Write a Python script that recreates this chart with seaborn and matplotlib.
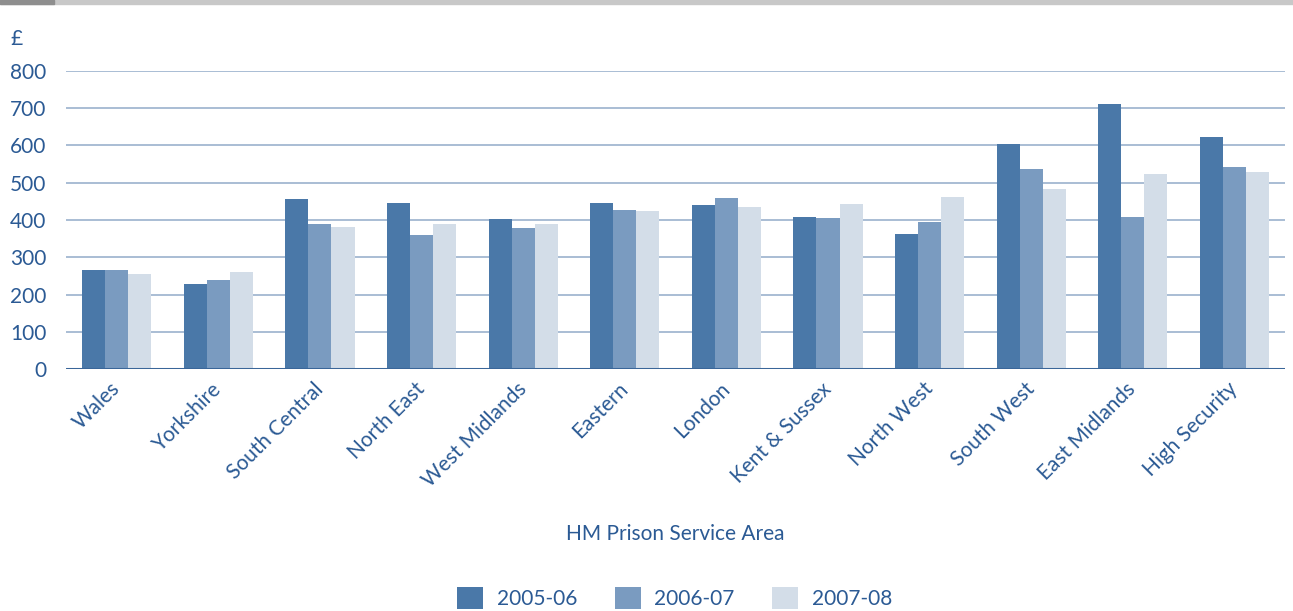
import matplotlib
matplotlib.use("Agg")
import matplotlib.pyplot as plt
import matplotlib.transforms as mtransforms
import seaborn as sns
import pandas as pd
from matplotlib.patches import Rectangle

categories = ["Wales", "Yorkshire", "South Central", "North East", "West Midlands",
              "Eastern", "London", "Kent & Sussex", "North West", "South West",
              "East Midlands", "High Security"]
series_names = ["2005-06", "2006-07", "2007-08"]
v_2005_06 = [266, 228, 456, 446, 403, 446, 440, 408, 362, 604, 711, 623]
v_2006_07 = [266, 239, 389, 360, 379, 427, 459, 405, 395, 537, 408, 542]
v_2007_08 = [255, 260, 381, 389, 389, 424, 435, 443, 462, 483, 523, 529]
y_ticks = [0, 100, 200, 300, 400, 500, 600, 700, 800]

colors = ["#4A78A8", "#7A9BC0", "#D3DDE8"]
text_color = "#2B5A94"
fs = 15

rows = []
for name, vals in zip(series_names, [v_2005_06, v_2006_07, v_2007_08]):
    for c, v in zip(categories, vals):
        rows.append({"area": c, "year": name, "value": v})
df = pd.DataFrame(rows)

sns.set_theme(style="white")
plt.rcParams["font.family"] = ["Lato", "DejaVu Sans"]

fig = plt.figure(figsize=(12.93, 6.11), dpi=100)
ax = fig.add_axes([0.051, 0.396, 0.943, 0.488])

sns.barplot(data=df, x="area", y="value", hue="year", palette=colors,
            order=categories, hue_order=series_names, width=0.68,
            saturation=1, ax=ax, legend=True, zorder=3, linewidth=0)

ax.set_ylim(0, 800)
ax.set_yticks(y_ticks)
ax.set_xlim(-0.5, len(categories) - 0.5)
for y in y_ticks[1:]:
    ax.axhline(y, color="#A9BDD4", lw=1.4, zorder=1)
ax.axhline(0, color="#3A6699", lw=2.2, zorder=4)
for s in ax.spines.values():
    s.set_visible(False)

ax.tick_params(axis="y", length=0, pad=14, labelsize=fs, labelcolor=text_color)
ax.tick_params(axis="x", length=0, pad=7, labelsize=fs, labelcolor=text_color)
offset = mtransforms.ScaledTranslation(-7 / 100, 0, fig.dpi_scale_trans)
for lab in ax.get_xticklabels():
    lab.set_rotation(45)
    lab.set_ha("right")
    lab.set_rotation_mode("anchor")
    lab.set_transform(lab.get_transform() + offset)
ax.set_ylabel("")
ax.set_xlabel("HM Prison Service Area", fontsize=fs, color=text_color, labelpad=24)

ax.text(-0.0455, 1.075, "£", transform=ax.transAxes, fontsize=fs, color=text_color,
        ha="left", va="bottom")

handles, labels = ax.get_legend_handles_labels()
ax.legend_.remove()
fig.legend(handles, labels, loc="lower center", bbox_to_anchor=(0.5217, -0.028), ncol=3,
           frameon=False, fontsize=fs, labelcolor=text_color, handlelength=1.25,
           handleheight=1.25, columnspacing=1.8, handletextpad=0.65)

fig.patches.append(Rectangle((0, 1 - 4 / 611), 1, 4 / 611, transform=fig.transFigure,
                             color="#C8C8C8", zorder=0))
fig.patches.append(Rectangle((0, 1 - 4 / 611), 54 / 1293, 4 / 611, transform=fig.transFigure,
                             color="#8E8E8E", zorder=1))

fig.savefig("out.png", dpi=100, facecolor="white")
